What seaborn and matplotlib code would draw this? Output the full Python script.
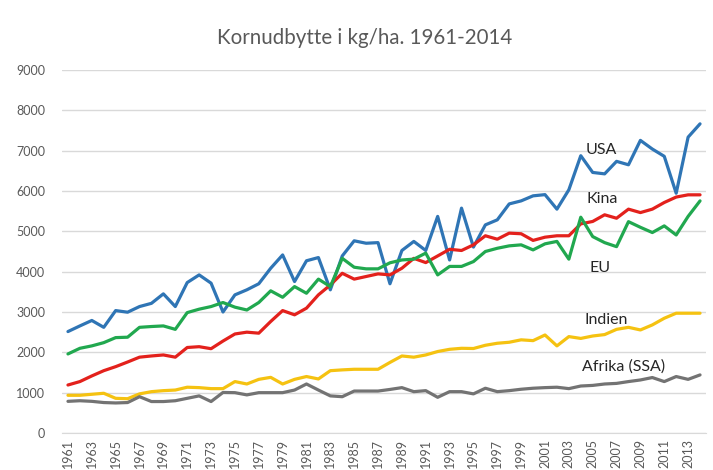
import pandas as pd
import matplotlib
matplotlib.use("Agg")
import matplotlib.pyplot as plt
import seaborn as sns

# --- DATA (kg/ha) ---
years = list(range(1961, 2015))

usa = [2515, 2655, 2790, 2620, 3035, 2995, 3135, 3215, 3450, 3135,
       3730, 3920, 3715, 3000, 3425, 3550, 3700, 4085, 4415, 3755,
       4270, 4350, 3550, 4390, 4765, 4705, 4720, 3700, 4525, 4750,
       4525, 5370, 4290, 5575, 4610, 5160, 5285, 5680, 5755, 5880,
       5910, 5550, 6030, 6875, 6460, 6425, 6735, 6650, 7255, 7040,
       6860, 5945, 7335, 7665]

kina = [1190, 1275, 1415, 1545, 1645, 1760, 1880, 1910, 1935, 1880,
        2120, 2140, 2090, 2280, 2455, 2500, 2475, 2765, 3035, 2930,
        3095, 3425, 3670, 3960, 3815, 3880, 3945, 3920, 4085, 4330,
        4225, 4390, 4555, 4525, 4665, 4890, 4805, 4955, 4940, 4775,
        4855, 4890, 4890, 5185, 5245, 5410, 5325, 5550, 5465, 5550,
        5715, 5850, 5905, 5905]

eu = [1960, 2100, 2160, 2240, 2365, 2375, 2620, 2640, 2655, 2570,
      2985, 3070, 3135, 3235, 3120, 3050, 3235, 3525, 3365, 3630,
      3465, 3815, 3630, 4330, 4110, 4070, 4070, 4220, 4290, 4310,
      4460, 3920, 4130, 4130, 4250, 4500, 4580, 4640, 4665, 4540,
      4690, 4750, 4310, 5350, 4870, 4720, 4620, 5240, 5100, 4970,
      5135, 4910, 5370, 5755]

indien = [935, 935, 960, 985, 860, 850, 970, 1025, 1050, 1065,
          1135, 1125, 1100, 1100, 1275, 1215, 1330, 1380, 1215, 1330,
          1400, 1340, 1545, 1565, 1580, 1580, 1580, 1750, 1910, 1880,
          1935, 2020, 2075, 2100, 2095, 2175, 2225, 2250, 2310, 2290,
          2430, 2160, 2390, 2345, 2405, 2440, 2570, 2620, 2555, 2680,
          2845, 2970, 2970, 2970]

afrika = [785, 800, 785, 755, 745, 755, 900, 780, 780, 800,
          860, 920, 780, 1005, 1000, 945, 1000, 1000, 1000, 1065,
          1215, 1065, 920, 900, 1040, 1040, 1040, 1080, 1125, 1025,
          1050, 885, 1025, 1025, 970, 1110, 1025, 1050, 1085, 1110,
          1125, 1135, 1100, 1165, 1180, 1215, 1230, 1275, 1315, 1375,
          1275, 1400, 1330, 1440]

series_names = ["USA", "Kina", "EU", "Indien", "Afrika (SSA)"]
series_values = [usa, kina, eu, indien, afrika]
colors = ["#2f75b5", "#e3211c", "#21a84f", "#f5c211", "#737373"]

# label placement (year, value) for the in-chart names
label_pos = {"USA": (2004.4, 7020), "Kina": (2004.5, 5805), "EU": (2004.7, 4095),
             "Indien": (2004.3, 2805), "Afrika (SSA)": (2004.1, 1640)}

y_ticks = list(range(0, 9001, 1000))
x_ticks = list(range(1961, 2014, 2))

# --- BUILD LONG TABLE ---
frames = []
for name, vals in zip(series_names, series_values):
    frames.append(pd.DataFrame({"year": years, "yield": vals, "region": name}))
df = pd.concat(frames, ignore_index=True)

# --- PLOT ---
sns.set_style("white")
plt.rcParams["font.family"] = ["Lato", "DejaVu Sans"]

fig = plt.figure(figsize=(7.13, 4.70), dpi=100)
ax = fig.add_axes([62 / 713, 37 / 470, 644 / 713, 363 / 470])

sns.lineplot(data=df, x="year", y="yield", hue="region",
             palette=dict(zip(series_names, colors)), linewidth=2.3,
             legend=False, ax=ax)

ax.set_xlim(1960.5, 2014.5)
ax.set_ylim(0, 9000)
ax.set_yticks(y_ticks)
ax.set_yticklabels([str(v) for v in y_ticks])
ax.set_xticks(x_ticks)
ax.set_xticklabels([str(v) for v in x_ticks], rotation=90)
ax.tick_params(axis="y", length=0, labelsize=9, colors="#595959", pad=12)
ax.tick_params(axis="x", length=0, labelsize=9, colors="#595959", pad=4)
ax.set_xlabel("")
ax.set_ylabel("")
ax.grid(axis="y", color="#d9d9d9", linewidth=1)
ax.set_axisbelow(True)
for s in ["top", "right", "left"]:
    ax.spines[s].set_visible(False)
ax.spines["bottom"].set_color("#d9d9d9")

for name in series_names:
    x, y = label_pos[name]
    ax.text(x, y, name, fontsize=11.5, color="#262626", va="center", ha="left")

fig.text(365 / 713, 1 - 38 / 470, "Kornudbytte i kg/ha. 1961-2014",
         fontsize=14.8, color="#595959", ha="center", va="center")

fig.savefig("out.png", dpi=100)
